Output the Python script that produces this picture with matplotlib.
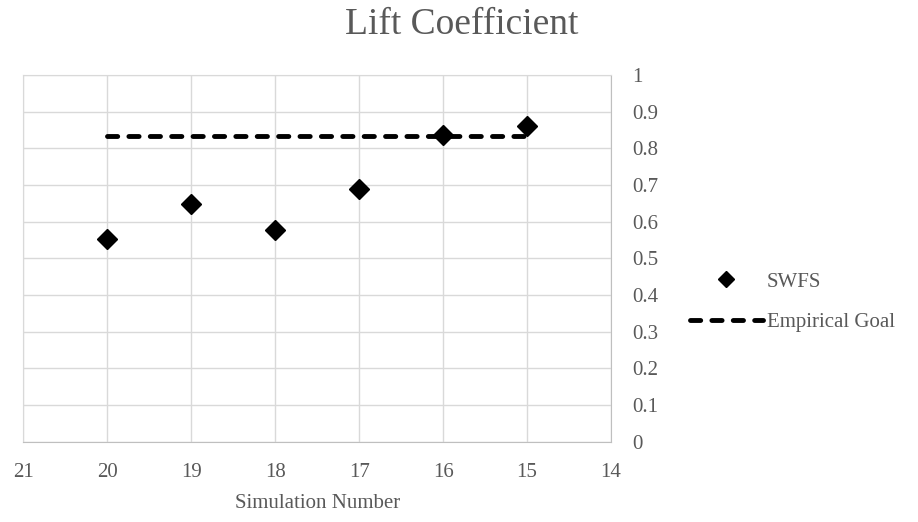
import matplotlib.pyplot as plt
from matplotlib.lines import Line2D

sim_numbers = [20, 19, 18, 17, 16, 15]
swfs_lift = [0.553, 0.649, 0.576, 0.689, 0.836, 0.861]
goal_x = [20, 15]
goal_lift = [0.835, 0.835]

x_ticks = [21, 20, 19, 18, 17, 16, 15, 14]
y_ticks = [0, 0.1, 0.2, 0.3, 0.4, 0.5, 0.6, 0.7, 0.8, 0.9, 1]

grey = "#595959"
grid_grey = "#d9d9d9"
axis_grey = "#bfbfbf"
dash = (0, (2.1, 2.3))

plt.rcParams["font.family"] = ["Liberation Serif", "DejaVu Serif"]

fig = plt.figure(figsize=(9.18, 5.22), dpi=100)
ax = fig.add_axes([0.0254, 0.1538, 0.6402, 0.7025])

ax.plot(goal_x, goal_lift, color="black", linewidth=3.5, linestyle=dash,
        dash_capstyle="round", zorder=3)
ax.plot(sim_numbers, swfs_lift, linestyle="none", marker="D", markersize=10,
        color="black", zorder=4)

ax.set_xlim(21, 14)
ax.set_ylim(0, 1)
ax.set_xticks(x_ticks)
ax.set_yticks(y_ticks)
ax.set_yticklabels([f"{v:g}" for v in y_ticks])
ax.yaxis.tick_right()
ax.grid(True, color=grid_grey, linewidth=1)
ax.set_axisbelow(True)
ax.spines["top"].set_color(grid_grey)
ax.spines["left"].set_color(grid_grey)
ax.spines["bottom"].set_color(axis_grey)
ax.spines["right"].set_color(axis_grey)
ax.tick_params(length=0, labelsize=15, labelcolor=grey, pad=15)

ax.set_xlabel("Simulation Number", fontsize=15, color=grey, labelpad=9)
fig.text(0.503, 1 - 34 / 522, "Lift Coefficient", fontsize=27, color=grey,
         ha="center", va="baseline")

handles = [
    Line2D([], [], linestyle="none", marker="D", markersize=8, color="black"),
    Line2D([], [], color="black", linewidth=3.5, linestyle=dash,
           dash_capstyle="round"),
]
fig.legend(handles, ["SWFS", "Empirical Goal"], loc="center left",
           bbox_to_anchor=(690 / 918, 1 - 302 / 522), frameon=False,
           fontsize=15, labelcolor=grey, handlelength=3.5, handletextpad=0.2,
           labelspacing=1.0, borderpad=0, borderaxespad=0)

fig.savefig("out.png", dpi=100)
